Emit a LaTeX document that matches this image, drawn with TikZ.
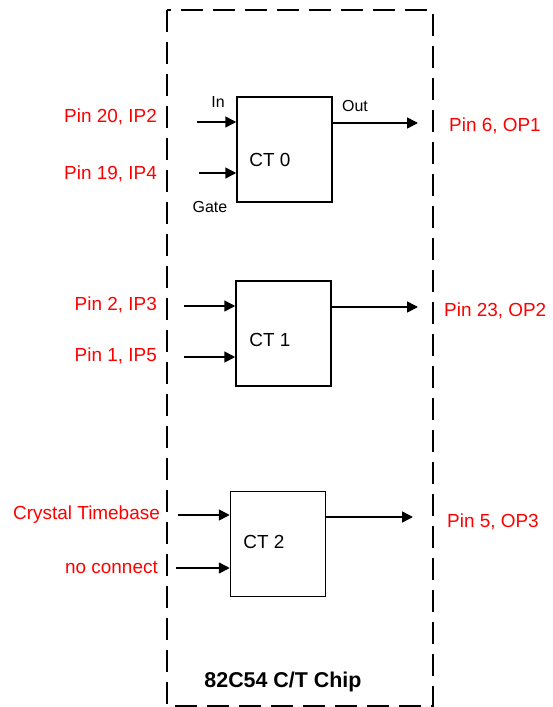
\documentclass[tikz,border=0pt]{standalone}
\usepackage{fontspec}
\setmainfont{Liberation Sans}
\usetikzlibrary{arrows.meta}
\begin{document}
\begin{tikzpicture}[x=1bp,y=-1bp,
  pin/.style={text=red,font=\fontsize{19}{22}\selectfont,inner sep=0pt},
  pinl/.style={pin,anchor=east},
  pinr/.style={pin,anchor=west},
  ctbox/.style={draw,line width=1.5bp,minimum width=95bp,minimum height=105bp,inner sep=0pt},
  ctlabel/.style={font=\fontsize{19}{22}\selectfont,inner sep=0pt},
  small/.style={font=\fontsize{16}{18}\selectfont,inner sep=0pt},
  sig/.style={line width=1.6bp,-{Triangle[length=11bp,width=11bp]}},
  chip/.style={draw,line width=1.8bp,dash pattern=on 22bp off 10bp}]
\useasboundingbox (0,0) rectangle (553,707);
\fill[white] (0,0) rectangle (553,707);
\draw[chip] (167,10) rectangle (433,706);
% CT0
\node[ctbox] (c0) at (284.5,149.5) {};
\node[ctlabel] (c0t) at (270,160) {CT 0};
\coordinate (i0a) at (197,122);
\coordinate (i0b) at (199,173);
\coordinate (o0) at (418,123);
\draw[sig] (i0a) -- (i0a -| c0.west);
\draw[sig] (i0b) -- (i0b -| c0.west);
\draw[sig] (o0 -| c0.east) -- (o0);
\node[small] (in) at (218,102) {In};
\node[small] (out) at (355,106) {Out};
\node[small] (gate) at (210,207) {Gate};
\node[pinl] (p20) at (157,117) {Pin 20, IP2};
\node[pinl] (p19) at (157,174) {Pin 19, IP4};
\node[pinr] (p6) at (449,126) {Pin 6, OP1};
% CT1
\node[ctbox] (c1) at (283.5,333.5) {};
\node[ctlabel] (c1t) at (270,340) {CT 1};
\coordinate (i1a) at (184,306);
\coordinate (i1b) at (184,357);
\coordinate (o1) at (418,307);
\draw[sig] (i1a) -- (i1a -| c1.west);
\draw[sig] (i1b) -- (i1b -| c1.west);
\draw[sig] (o1 -| c1.east) -- (o1);
\node[pinl] (p2) at (157,305) {Pin 2, IP3};
\node[pinl] (p1) at (157,356) {Pin 1, IP5};
\node[pinr] (p23) at (444,311) {Pin 23, OP2};
% CT2
\node[ctbox] (c2) at (278,544) {};
\node[ctlabel] (c2t) at (264,542) {CT 2};
\coordinate (i2a) at (178,515);
\coordinate (i2b) at (176,568);
\coordinate (o2) at (413,517);
\draw[sig] (i2a) -- (i2a -| c2.west);
\draw[sig] (i2b) -- (i2b -| c2.west);
\draw[sig] (o2 -| c2.east) -- (o2);
\node[pinl] (ct) at (160,515) {Crystal Timebase};
\node[pinl] (nc) at (158,567) {no connect};
\node[pinr] (p5) at (447,522) {Pin 5, OP3};
\node[font=\bfseries\fontsize{21.5}{24}\selectfont,inner sep=0pt] (chipl) at (283,682) {82C54 C/T Chip};
\end{tikzpicture}
\end{document}
